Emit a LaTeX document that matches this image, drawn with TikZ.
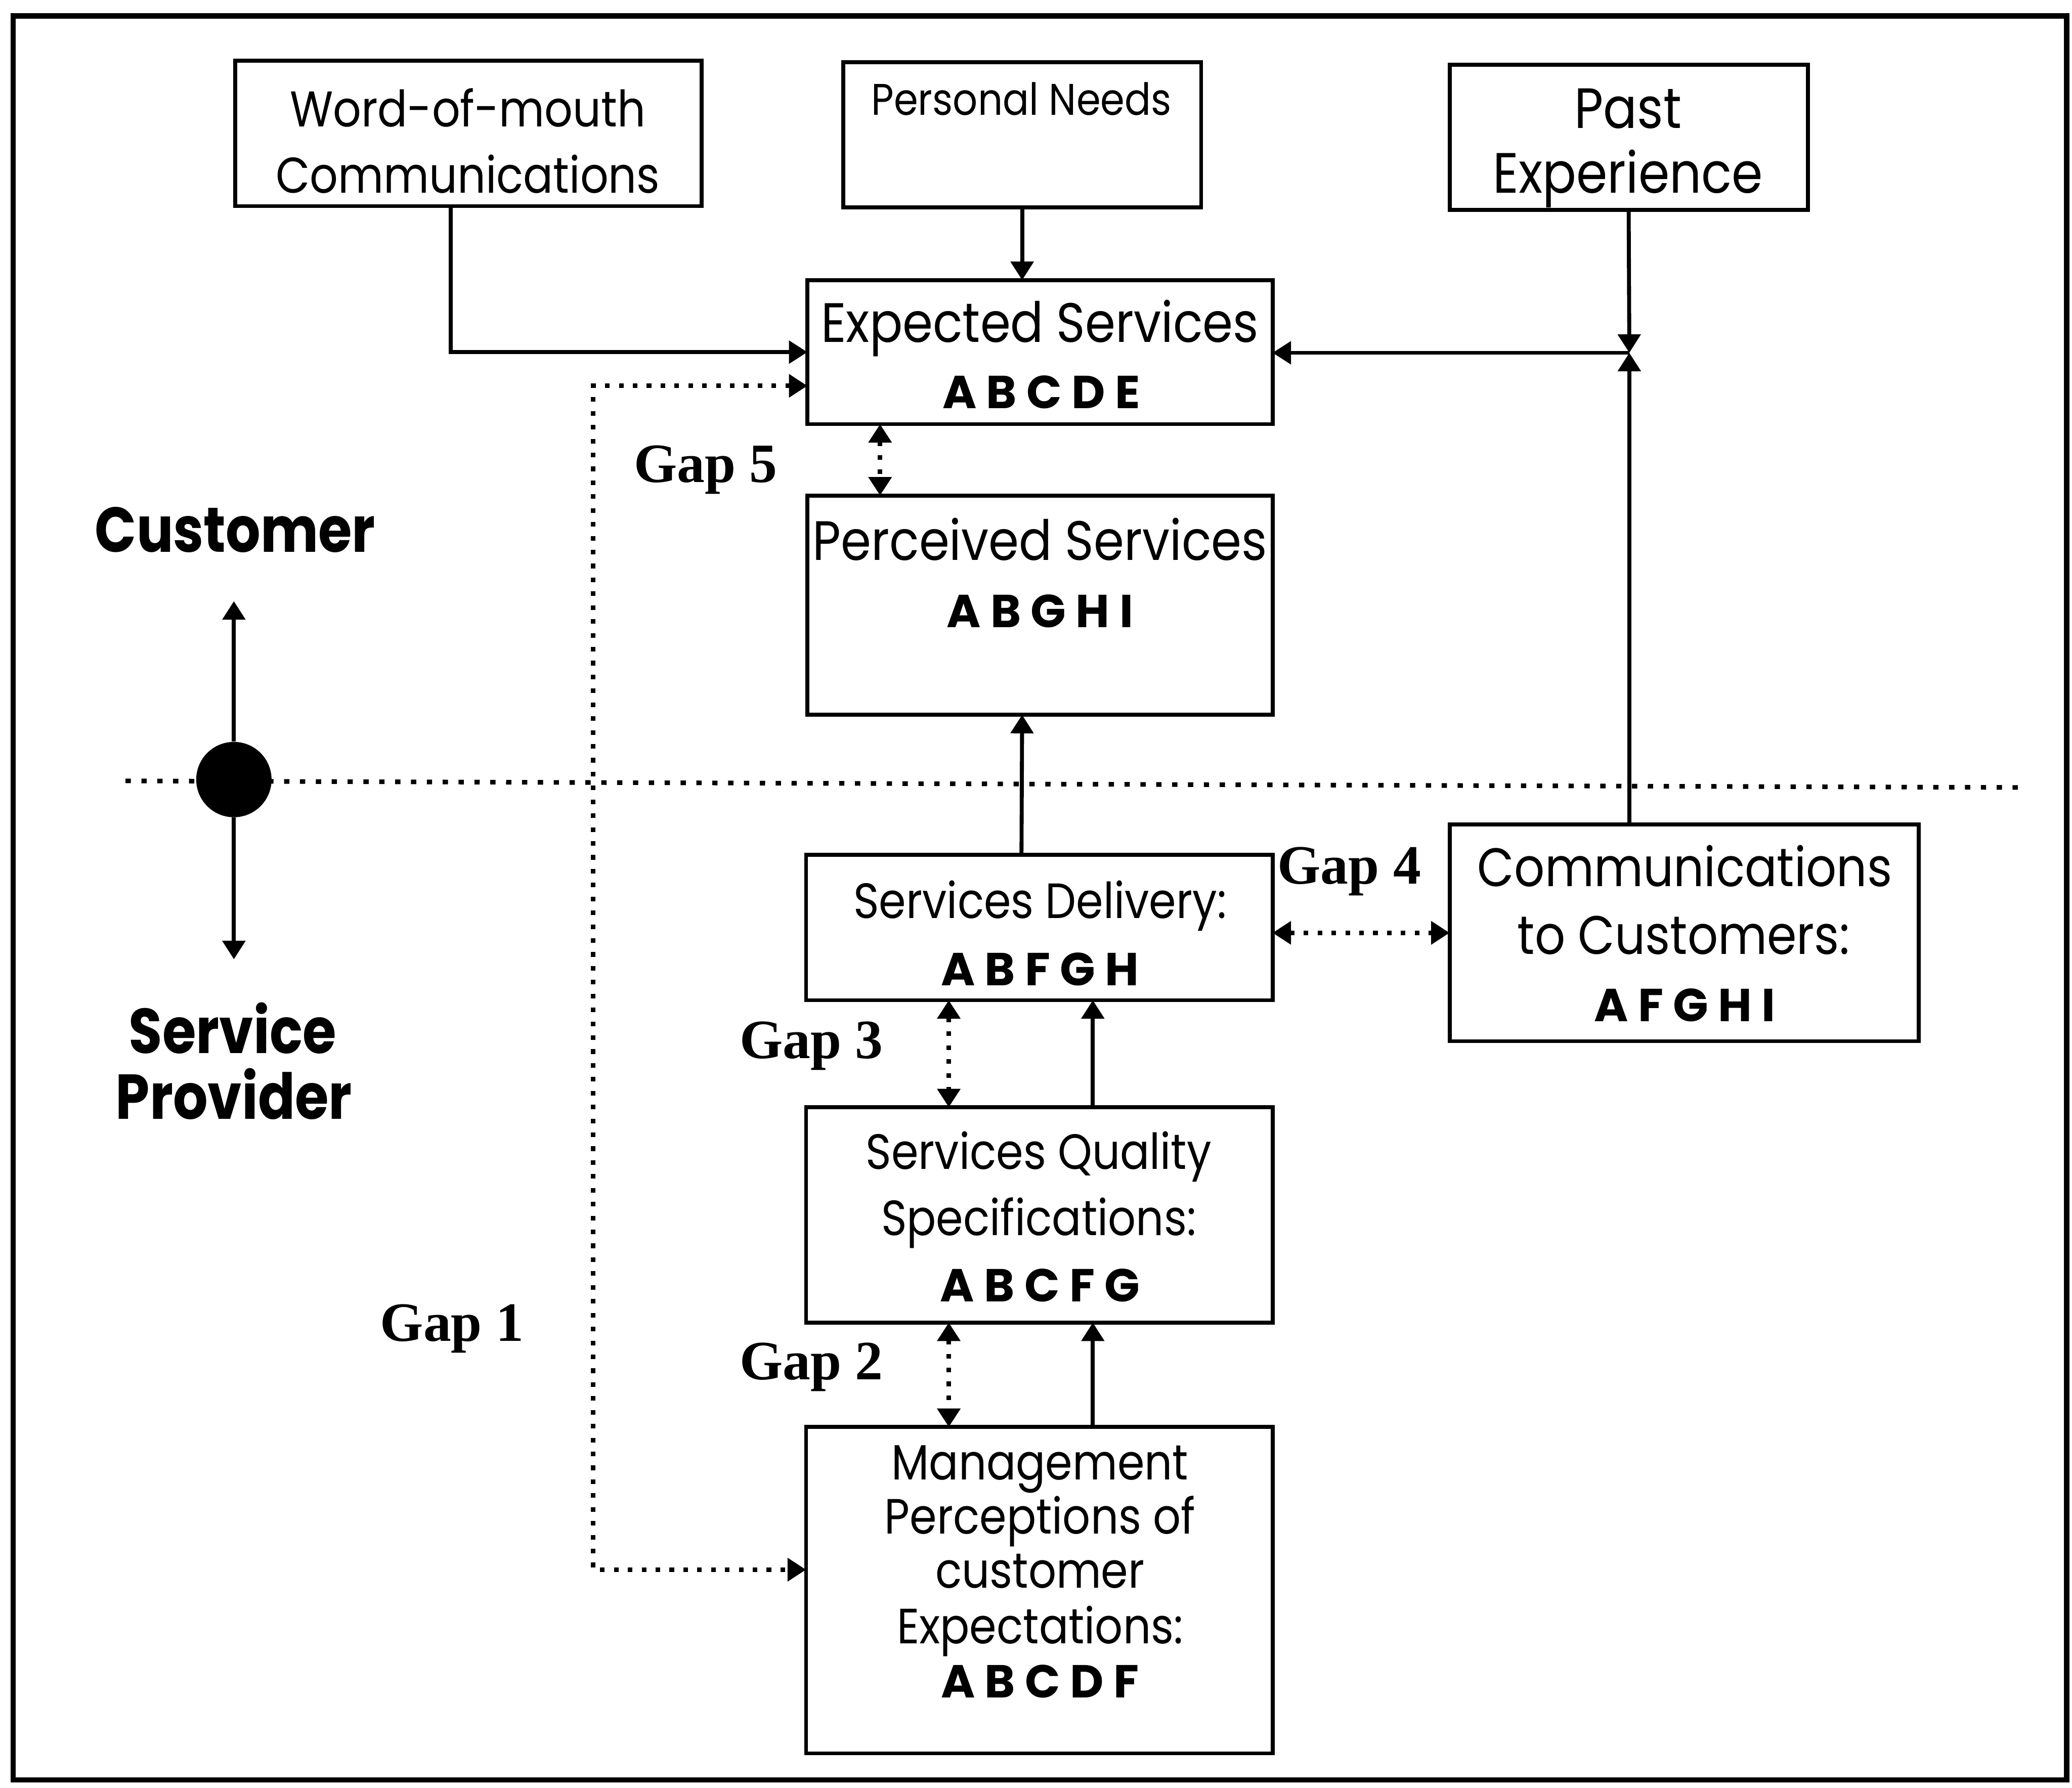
\documentclass[tikz,border=0pt]{standalone}
\usepackage{fontspec}
\setmainfont{Poppins}
\newfontfamily\boxfont{Poppins}[FakeStretch=0.88]
\newfontfamily\sidefont{Poppins}[FakeStretch=0.86]
\newfontfamily\gapfont{Liberation Serif}
\usetikzlibrary{arrows.meta}

\begin{document}
\begin{tikzpicture}[x=1pt,y=-1pt,
  box/.style={draw, line width=3pt, inner sep=0pt, outer sep=0pt, anchor=north west},
  txtbase/.style={inner sep=0pt, anchor=base},
  txt/.style={txtbase, font=\boxfont\fontsize{42}{42}\selectfont},
  txtw/.style={txtbase, font=\boxfont\fontsize{38}{38}\selectfont},
  txts/.style={txtbase, font=\boxfont\fontsize{37.5}{37.5}\selectfont},
  codes/.style={txtbase, font=\bfseries\fontsize{35}{35}\selectfont},
  side/.style={txtbase, font=\sidefont\bfseries\fontsize{48}{48}\selectfont},
  gaplbl/.style={txtbase, font=\gapfont\bfseries\fontsize{42}{42}\selectfont},
  conn/.style={line width=3pt, -{Triangle[length=14pt,width=17pt]}},
  dotted2/.style={line width=3.5pt, dash pattern=on 3.5pt off 7pt,
    {Triangle[length=14pt,width=17pt]}-{Triangle[length=14pt,width=17pt]}},
  divider/.style={line width=3.5pt, dash pattern=on 4pt off 8pt}
]
\useasboundingbox (0,0) rectangle (1568,1353);

% outer frame
\draw[line width=4pt] (10,12) rectangle (1564,1347);

% boxes
\node[box, minimum width=353, minimum height=110] (wom)  at (178,46)  {};
\node[box, minimum width=271, minimum height=110] (pn)   at (638,47)  {};
\node[box, minimum width=271, minimum height=110] (pe)   at (1097,49) {};
\node[box, minimum width=352, minimum height=109] (exp)  at (611,212) {};
\node[box, minimum width=352, minimum height=166] (perc) at (611,375) {};
\node[box, minimum width=353, minimum height=110] (sd)   at (610,647) {};
\node[box, minimum width=355, minimum height=164] (com)  at (1097,624) {};
\node[box, minimum width=353, minimum height=163] (sq)   at (610,838) {};
\node[box, minimum width=353, minimum height=247] (mgmt) at (610,1080) {};

% box texts
\node[txtw] (wom1) at (354,96)  {Word-of-mouth};
\node[txtw] (wom2) at (354,146) {Communications};
\node[txtbase, font=\boxfont\fontsize{33.5}{33.5}\selectfont] (pn1) at (773,87) {Personal Needs};
\node[txt, font=\boxfont\fontsize{43}{43}\selectfont] (pe1) at (1232,97)  {Past};
\node[txt, font=\boxfont\fontsize{43}{43}\selectfont] (pe2) at (1232,146) {Experience};
\node[txt] (exp1) at (787,259) {Expected Services};
\node[codes] (exp2) at (788,309) {A B C D E};
\node[txt] (perc1) at (787,424) {Perceived Services};
\node[codes] (perc2) at (787,475) {A B G H I};
\node[txts] (sd1) at (787,695) {Services Delivery:};
\node[codes] (sd2) at (787,746) {A B F G H};
\node[txt, font=\boxfont\fontsize{41}{41}\selectfont] (com1) at (1275,671) {Communications};
\node[txt, font=\boxfont\fontsize{41}{41}\selectfont] (com2) at (1274,722) {to Customers:};
\node[codes] (com3) at (1275,773) {A F G H I};
\node[txts] (sq1) at (786,885) {Services Quality};
\node[txts] (sq2) at (786,935) {Specifications:};
\node[codes] (sq3) at (787,985) {A B C F G};
\node[txts] (mg1) at (787,1120) {Management};
\node[txts] (mg2) at (787,1161) {Perceptions of};
\node[txts] (mg3) at (787,1202) {customer};
\node[txts] (mg4) at (787,1244) {Expectations:};
\node[codes] (mg5) at (787,1285) {A B C D F};

% side labels
\node[side] (cust) at (178,418) {Customer};
\node[side] (prov1) at (176,797) {Service};
\node[side] (prov2) at (177,847) {Provider};

% gap labels
\node[gaplbl] (gap5) at (534,365) {Gap 5};
\node[gaplbl] (gap4) at (1021,669) {Gap 4};
\node[gaplbl] (gap3) at (614,801) {Gap 3};
\node[gaplbl] (gap2) at (614,1044) {Gap 2};
\node[gaplbl] (gap1) at (342,1015) {Gap 1};

% customer / provider divider
\coordinate (divL) at (95,591);
\coordinate (divR) at (1530,596);
\draw[divider] (divL) -- (divR);
\node[circle, fill, inner sep=0pt, minimum size=57] (dot) at (177,590) {};
\coordinate (custTip) at (177,455);
\coordinate (provTip) at (177,726);
\draw[conn] (dot.north) -- (custTip);
\draw[conn] (dot.south) -- (provTip);

% expectation inputs
\draw[conn] ([xshift=-13.5]wom.south) |- (exp.west);
\draw[conn] (pn.south) -- (pn.south |- exp.north);
\coordinate (jn) at (1233,267);
\draw[conn] (pe.south) -- (jn);
\draw[conn] (com.north -| jn) -- (jn);
\draw[conn] (jn) -- (exp.east |- jn);

% service chain
\draw[conn] ([xshift=-13.5]sd.north) -- ([xshift=-13.5]perc.south);
\draw[conn] ([xshift=40.5]sq.north) -- ([xshift=40.5]sd.south);
\draw[conn] ([xshift=40.5]mgmt.north) -- ([xshift=40.5]sq.south);

% gaps
\draw[dotted2] ([xshift=-121]exp.south) -- ([xshift=-121]perc.north);
\draw[dotted2] (com.west -| sd.east) -- (com.west);
\draw[dotted2] ([xshift=-68.5]sd.south) -- ([xshift=-68.5]sq.north);
\draw[dotted2] ([xshift=-68.5]sq.south) -- ([xshift=-68.5]mgmt.north);
\coordinate (g1top) at (449,292);
\coordinate (g1bot) at (449,1188);
\draw[dotted2] (exp.west |- g1top) -- (g1top) -- (g1bot) -- (mgmt.west |- g1bot);
\end{tikzpicture}
\end{document}
